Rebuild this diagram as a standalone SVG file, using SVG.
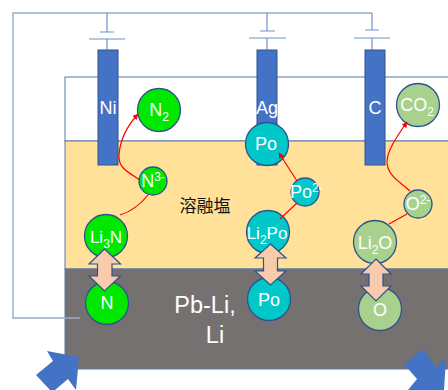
<svg xmlns="http://www.w3.org/2000/svg" width="448" height="390" viewBox="0 0 448 390">
<style>
text{font-family:"Liberation Sans",Arial,sans-serif;fill:#fff;text-anchor:middle}
.t{font-size:18px}
.s{font-size:12px}
.c{stroke:#2f528f;stroke-width:1.3}
.g{fill:#00e800}.b{fill:#00c8c8}.o{fill:#a9d18e}
.w{fill:none;stroke:#6f90d2;stroke-width:1.2}
.e{fill:#4472c4;stroke:#2f528f;stroke-width:1}
.d{fill:#f8cbad;stroke:#2f528f;stroke-width:1.2}
.r{fill:none;stroke:#f00;stroke-width:1.2}
</style>
<defs><marker id="a" viewBox="0 0 10 10" refX="9" refY="5" markerWidth="5" markerHeight="5" orient="auto"><path d="M0 0L10 5L0 10z" fill="#f00"/></marker></defs>
<g id="vessel">
<rect x="65" y="77" width="390" height="64" fill="#fff" stroke="#5b76a8" stroke-width="1"/>
<rect x="65" y="141" width="390" height="128" fill="#ffe199" stroke="#5b76a8" stroke-width="1"/>
<rect x="65" y="269" width="390" height="100" fill="#767171" stroke="#5b76a8" stroke-width="1"/>
</g>
<g id="wires">
<path d="M80 318H13V13H372" fill="none" stroke="#9aabc9" stroke-width="1.4"/>
<path d="M107 13V32M100 32H114M89 39H125M107 39V50" class="w"/>
<path d="M267 13V31M260 31H275M249 38H286M267 38V50" class="w"/>
<path d="M372 13V30M365 30H379M354 38H390M372 38V50" class="w"/>
</g>
<g id="electrode-ni"><rect class="e" x="98" y="50" width="20" height="115"/><text class="t" x="108" y="114">Ni</text></g>
<g id="electrode-ag"><rect class="e" x="257" y="50" width="20" height="115"/><text class="t" x="267" y="114">Ag</text></g>
<g id="electrode-c"><rect class="e" x="365" y="50" width="20" height="115"/><text class="t" x="375" y="114">C</text></g>
<g id="n2"><circle class="c g" cx="159" cy="110" r="21.5"/><text class="t" x="159" y="116">N<tspan class="s" dy="5">2</tspan></text></g>
<g id="n3"><circle class="c g" cx="153" cy="181" r="14"/><text x="153" y="187" font-size="18">N<tspan class="s" dy="-6">3-</tspan></text></g>
<g id="li3n"><circle class="c g" cx="106" cy="236" r="21.5"/><text x="106" y="243" font-size="17">Li<tspan class="s" dy="5">3</tspan><tspan dy="-5">N</tspan></text></g>
<g id="n"><circle class="c g" cx="107" cy="303" r="21.5"/><text class="t" x="107" y="309">N</text></g>
<g id="po"><circle class="c b" cx="267" cy="144" r="21.5"/><text class="t" x="266" y="150">Po</text></g>
<g id="po2"><circle class="c b" cx="305" cy="192" r="14"/><text x="290" y="198" font-size="18" style="text-anchor:start">Po<tspan class="s" dy="-6">2-</tspan></text></g>
<g id="li2po"><circle class="c b" cx="268" cy="232" r="21.5"/><text x="267" y="239" font-size="17">Li<tspan class="s" dy="5">2</tspan><tspan dy="-5">Po</tspan></text></g>
<g id="po-metal"><circle class="c b" cx="269" cy="299" r="21.5"/><text class="t" x="269" y="306">Po</text></g>
<g id="co2"><circle class="c o" cx="418" cy="105" r="21.5"/><text class="t" x="417" y="111">CO<tspan class="s" dy="5">2</tspan></text></g>
<g id="o2"><circle class="c o" cx="418" cy="204" r="14"/><text x="418" y="210" font-size="18">O<tspan class="s" dy="-6">2-</tspan></text></g>
<g id="li2o"><circle class="c o" cx="375" cy="242" r="21.5"/><text x="375" y="249" font-size="18">Li<tspan class="s" dy="5">2</tspan><tspan dy="-5">O</tspan></text></g>
<g id="o"><circle class="c o" cx="380" cy="309" r="21.5"/><text class="t" x="380" y="316">O</text></g>
<g id="connectors">
<path class="r" marker-end="url(#a)" d="M140 180C128 172 118 168 119 155C120 140 128 125 138 114"/>
<path class="r" marker-end="url(#a)" d="M297 181L279 153"/>
<path class="r" d="M297 203L280 219"/>
<path class="r" marker-end="url(#a)" d="M410 191C400 182 387 175 387 162C387 150 398 135 407 122"/>
<path class="r" d="M407 214L389 224"/>
<path class="r" d="M120 215C130 212 140 205 148 195"/>
</g>
<g id="exchange">
<path class="d" d="M104.500 249L120.500 264H112V276H120.500L104.500 291L89 276H97.500V264H89Z"/>
<path class="d" d="M270.500 244L286 258H277.500V271H286L270.500 285L255 271H263.500V258H255Z"/>
<path class="d" d="M376 259L391 274H383V286H391L376 301L361 286H369V274H361Z"/>
</g>
<g id="label-melt"><text x="205" y="212" font-size="17" style="font-family:'Noto Sans CJK JP','Noto Sans CJK SC',sans-serif;fill:#111">溶融塩</text></g>
<g id="label-pb"><text x="205" y="313" font-size="23.500">Pb-Li,</text><text x="215" y="343" font-size="23.500">Li</text></g>
<g id="arrow-left"><path d="M79 357L47 351L53 361L36 375L50 390H55L68 379L76 390Z" fill="#4472c4"/></g>
<g id="arrow-right"><path d="M423 349L404 364L417 379L408 390H444L446 359L436 367Z" fill="#4472c4"/></g>
</svg>
